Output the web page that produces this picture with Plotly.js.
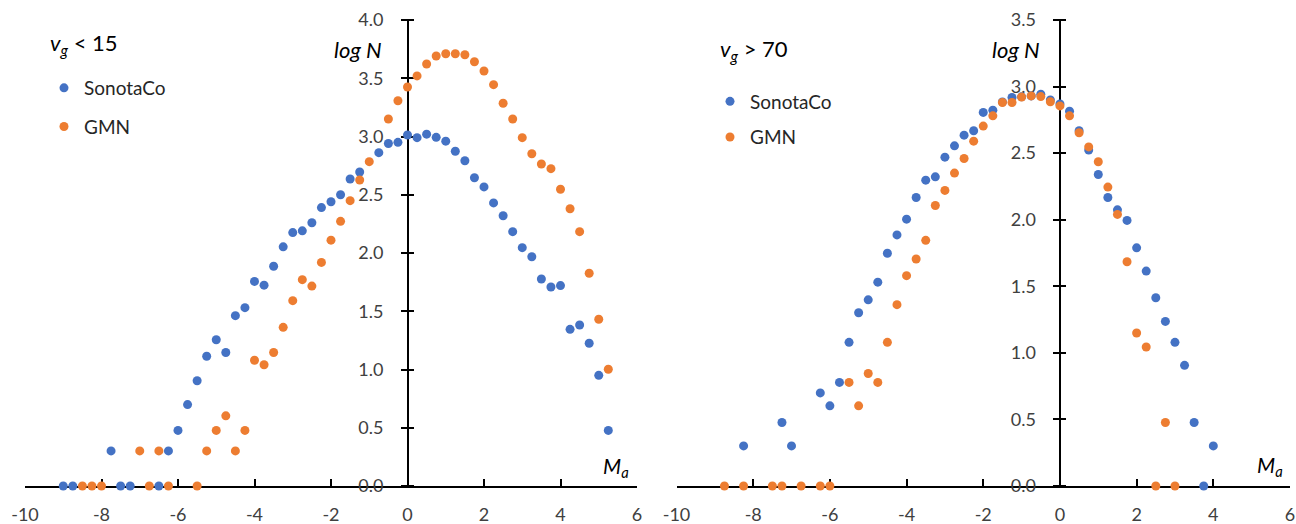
<!DOCTYPE html>
<html>
<head>
<meta charset="utf-8">
<script src="https://cdn.plot.ly/plotly-3.0.1.min.js"></script>
<style>
  html, body { margin: 0; padding: 0; background: #ffffff; }
  #chart { width: 1296px; height: 524px; }
</style>
</head>
<body>
<div id="chart"></div>
<script>
// Absolute magnitude M_a versus log N, two velocity classes.

// --- v_g < 15 ---
const slowMagSonotaCo = [-9.0, -8.75, -7.75, -7.5, -7.25, -6.5, -6.25, -6.0, -5.75, -5.5, -5.25, -5.0, -4.75, -4.5, -4.25, -4.0, -3.75, -3.5, -3.25, -3.0, -2.75, -2.5, -2.25, -2.0, -1.75, -1.5, -1.25, -0.75, -0.5, -0.25, 0.0, 0.25, 0.5, 0.75, 1.0, 1.25, 1.5, 1.75, 2.0, 2.25, 2.5, 2.75, 3.0, 3.25, 3.5, 3.75, 4.0, 4.25, 4.5, 4.75, 5.0, 5.25];
const slowLogSonotaCo = [0, 0, 0.301, 0, 0, 0, 0.301, 0.477, 0.699, 0.903, 1.114, 1.255, 1.146, 1.462, 1.531, 1.756, 1.724, 1.886, 2.053, 2.175, 2.190, 2.260, 2.390, 2.440, 2.500, 2.635, 2.695, 2.861, 2.940, 2.950, 3.013, 2.990, 3.020, 2.993, 2.960, 2.873, 2.792, 2.646, 2.567, 2.430, 2.320, 2.183, 2.046, 1.968, 1.777, 1.708, 1.720, 1.345, 1.382, 1.225, 0.950, 0.477];

const slowMagGMN = [-8.5, -8.25, -8.0, -7.0, -6.75, -6.5, -6.25, -5.5, -5.25, -5.0, -4.75, -4.5, -4.25, -4.0, -3.75, -3.5, -3.25, -3.0, -2.75, -2.5, -2.25, -2.0, -1.75, -1.5, -1.25, -1.0, -0.5, -0.25, 0.0, 0.25, 0.5, 0.75, 1.0, 1.25, 1.5, 1.75, 2.0, 2.25, 2.5, 2.75, 3.0, 3.25, 3.5, 3.75, 4.0, 4.25, 4.5, 4.75, 5.0, 5.25];
const slowLogGMN = [0, 0, 0, 0.301, 0, 0.301, 0, 0, 0.301, 0.477, 0.602, 0.301, 0.477, 1.079, 1.041, 1.146, 1.362, 1.591, 1.771, 1.716, 1.919, 2.110, 2.272, 2.449, 2.627, 2.784, 3.150, 3.307, 3.425, 3.520, 3.622, 3.691, 3.710, 3.710, 3.702, 3.642, 3.562, 3.445, 3.285, 3.150, 2.990, 2.852, 2.764, 2.724, 2.547, 2.380, 2.183, 1.826, 1.431, 1.002];

// --- v_g > 70 ---
const fastMagSonotaCo = [-8.25, -7.25, -7.0, -6.25, -6.0, -5.75, -5.5, -5.25, -5.0, -4.75, -4.5, -4.25, -4.0, -3.75, -3.5, -3.25, -3.0, -2.75, -2.5, -2.25, -2.0, -1.75, -1.5, -1.25, -1.0, -0.75, -0.5, -0.25, 0.0, 0.25, 0.5, 0.75, 1.0, 1.25, 1.5, 1.75, 2.0, 2.25, 2.5, 2.75, 3.0, 3.25, 3.5, 3.75, 4.0];
const fastLogSonotaCo = [0.301, 0.477, 0.301, 0.699, 0.602, 0.778, 1.079, 1.301, 1.398, 1.531, 1.748, 1.886, 2.004, 2.167, 2.297, 2.322, 2.470, 2.555, 2.635, 2.668, 2.806, 2.823, 2.885, 2.918, 2.923, 2.930, 2.942, 2.900, 2.870, 2.815, 2.668, 2.523, 2.340, 2.167, 2.074, 1.995, 1.789, 1.614, 1.414, 1.236, 1.079, 0.906, 0.477, 0, 0.301];

const fastMagGMN = [-8.75, -8.25, -7.5, -7.25, -6.75, -6.25, -6.0, -5.5, -5.25, -5.0, -4.75, -4.5, -4.25, -4.0, -3.75, -3.5, -3.25, -3.0, -2.75, -2.5, -2.25, -2.0, -1.75, -1.5, -1.25, -1.0, -0.75, -0.5, -0.25, 0.0, 0.25, 0.5, 0.75, 1.0, 1.25, 1.5, 1.75, 2.0, 2.25, 2.5, 2.75, 3.0];
const fastLogGMN = [0, 0, 0, 0, 0, 0, 0, 0.778, 0.602, 0.845, 0.778, 1.079, 1.362, 1.580, 1.705, 1.845, 2.107, 2.220, 2.350, 2.460, 2.590, 2.703, 2.780, 2.880, 2.880, 2.922, 2.930, 2.925, 2.886, 2.855, 2.780, 2.653, 2.547, 2.435, 2.245, 2.040, 1.684, 1.149, 1.044, 0, 0.477, 0];

const magTicks = [-10, -8, -6, -4, -2, 0, 2, 4, 6];
const slowLogTicks = [0, 0.5, 1.0, 1.5, 2.0, 2.5, 3.0, 3.5, 4.0];
const fastLogTicks = [0, 0.5, 1.0, 1.5, 2.0, 2.5, 3.0, 3.5];

const BLUE = '#4472C4';
const ORANGE = '#ED7D31';
const FONT = 'Lato, "Open Sans", sans-serif';
const W = 1296, H = 524;

function dots(x, y, name, color, xa, ya, legend, group) {
  return {
    type: 'scatter', mode: 'markers', x: x, y: y, name: name,
    xaxis: xa, yaxis: ya, legend: legend, legendgroup: group,
    cliponaxis: false,
    marker: { color: color, size: 9, line: { width: 0 } },
    hoverinfo: 'x+y+name'
  };
}

const traces = [
  dots(slowMagSonotaCo, slowLogSonotaCo, 'SonotaCo', BLUE, 'x', 'y', 'legend', 's1'),
  dots(slowMagGMN, slowLogGMN, 'GMN', ORANGE, 'x', 'y', 'legend', 'g1'),
  dots(fastMagSonotaCo, fastLogSonotaCo, 'SonotaCo', BLUE, 'x2', 'y2', 'legend2', 's2'),
  dots(fastMagGMN, fastLogGMN, 'GMN', ORANGE, 'x2', 'y2', 'legend2', 'g2')
];

// pixel helpers for paper coordinates
const px = v => v / W;
const py = v => 1 - v / H;

const yDomain = [py(486), py(20)];
const leftX = [25, 637];
const rightX = [676.5, 1290];
// pixel position of M_a = 0 in each panel
const zeroLeft = leftX[0] + (leftX[1] - leftX[0]) * 10 / 16;
const zeroRight = rightX[0] + (rightX[1] - rightX[0]) * 10 / 16;
const TICKHALF = 6.5;

function magAxis(domain, anchor) {
  return {
    domain: domain, anchor: anchor, range: [-10, 6],
    tickmode: 'array', tickvals: magTicks, ticktext: magTicks.map(String),
    showgrid: false, fixedrange: true,
    showline: true, linecolor: '#000000', linewidth: 2,
    ticks: 'inside', ticklen: 7, tickwidth: 2, tickcolor: '#000000',
    zeroline: true, zerolinecolor: '#000000', zerolinewidth: 2,
    layer: 'below traces',
    ticklabelstandoff: 11,
    tickfont: { family: FONT, size: 18, color: '#404040' }
  };
}

function logAxis(range, ticks, pos) {
  return {
    domain: yDomain, anchor: 'free', position: pos, range: range,
    tickmode: 'array', tickvals: ticks, ticktext: ticks.map(v => v.toFixed(1)),
    showgrid: false, zeroline: false, showline: false, fixedrange: true,
    ticks: 'outside', ticklen: 2 * TICKHALF, tickwidth: 2, tickcolor: '#000000',
    layer: 'below traces',
    ticklabelstandoff: 14,
    tickfont: { family: FONT, size: 18, color: '#404040' }
  };
}

const textFont = (size, color) => ({ family: FONT, size: size, color: color || '#000000' });

const annotations = [
  { text: '<i>v</i><sub><i>g</i></sub> &lt; 15', x: px(48), y: py(44), xanchor: 'left', yanchor: 'middle', font: textFont(22) },
  { text: '<i>log N</i>', x: px(384), y: py(49), xanchor: 'right', yanchor: 'middle', font: textFont(22) },
  { text: '<i>M</i><sub><i>a</i></sub>', x: px(601), y: py(467), xanchor: 'left', yanchor: 'middle', font: textFont(21) },
  { text: '<i>v</i><sub><i>g</i></sub> &gt; 70', x: px(718), y: py(50), xanchor: 'left', yanchor: 'middle', font: textFont(22) },
  { text: '<i>log N</i>', x: px(1042), y: py(49), xanchor: 'right', yanchor: 'middle', font: textFont(22) },
  { text: '<i>M</i><sub><i>a</i></sub>', x: px(1255), y: py(466), xanchor: 'left', yanchor: 'middle', font: textFont(21) }
].map(a => Object.assign({ xref: 'paper', yref: 'paper', showarrow: false }, a));

const legendBase = {
  xanchor: 'left', yanchor: 'top', bgcolor: 'rgba(0,0,0,0)', borderwidth: 0,
  font: textFont(19, '#262626'), orientation: 'v', itemclick: false, itemdoubleclick: false
};

const layout = {
  width: W, height: H,
  margin: { l: 0, r: 0, t: 0, b: 0, pad: 0 },
  paper_bgcolor: '#ffffff', plot_bgcolor: 'rgba(0,0,0,0)',
  showlegend: true,
  xaxis: magAxis([px(leftX[0]), px(leftX[1])], 'y'),
  yaxis: logAxis([0, 4], slowLogTicks, px(zeroLeft + TICKHALF)),
  xaxis2: magAxis([px(rightX[0]), px(rightX[1])], 'y2'),
  yaxis2: logAxis([0, 3.5], fastLogTicks, px(zeroRight + TICKHALF)),
  legend: Object.assign({}, legendBase, { x: px(44), y: py(69), tracegroupgap: 11 }),
  legend2: Object.assign({}, legendBase, { x: px(710), y: py(82.5), tracegroupgap: 8 }),
  annotations: annotations,
  hovermode: 'closest'
};

Plotly.newPlot('chart', traces, layout, { displayModeBar: false, responsive: false });
</script>
</body>
</html>
